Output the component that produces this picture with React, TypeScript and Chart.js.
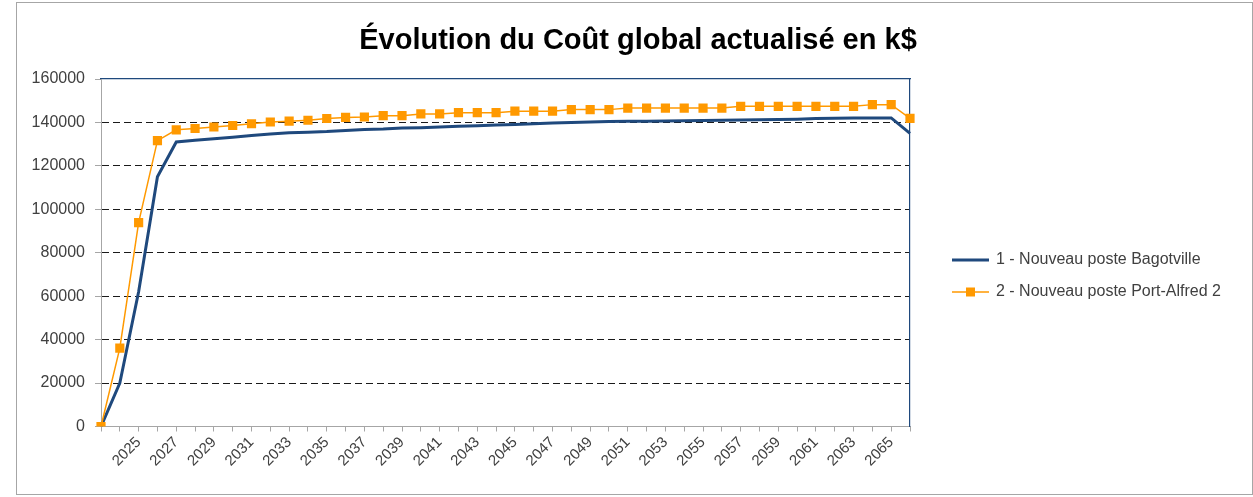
import React, { useEffect, useRef } from 'react';
import { Chart, registerables } from 'chart.js';

Chart.register(...registerables);

const TITLE = 'Évolution du Coût global actualisé en k$';

const years = [
  '2023', '2024', '2025', '2026', '2027', '2028', '2029', '2030', '2031', '2032', '2033',
  '2034', '2035', '2036', '2037', '2038', '2039', '2040', '2041', '2042', '2043', '2044',
  '2045', '2046', '2047', '2048', '2049', '2050', '2051', '2052', '2053', '2054', '2055',
  '2056', '2057', '2058', '2059', '2060', '2061', '2062', '2063', '2064', '2065', '2066',
];

const seriesNames = ['1 - Nouveau poste Bagotville', '2 - Nouveau poste Port-Alfred 2'];

const bagotville = [
  0, 20000, 62000, 115000, 131000, 131800, 132500, 133200, 134000, 134700,
  135300, 135500, 135800, 136300, 136800, 137000, 137400, 137600, 137900, 138200,
  138500, 138800, 139100, 139400, 139700, 140000, 140200, 140400, 140500, 140600,
  140700, 140800, 140900, 141000, 141100, 141200, 141300, 141500, 141800, 141900,
  142000, 142100, 142100, 135000,
];

const portAlfred = [
  0, 36100, 93900, 131600, 136600, 137200, 137900, 138600, 139400, 140200,
  140600, 141000, 141800, 142300, 142500, 143100, 143100, 143900, 143900, 144500,
  144500, 144500, 145200, 145200, 145200, 145900, 145900, 145900, 146600, 146600,
  146600, 146600, 146600, 146600, 147400, 147400, 147400, 147400, 147400, 147400,
  147400, 148200, 148200, 141900,
];

const yMin = 0;
const yMax = 160000;
const yStep = 20000;

const BLUE = '#1F497D';
const ORANGE = '#FF9900';
const FONT = "'Liberation Sans', Arial, sans-serif";

const W = 1253;
const H = 497;
const CH = 552;
const PAD_LEFT = 23;
const PLOT_LEFT = 101;
const PLOT_BOTTOM = 426.5;

function legendSample(color: string, width: number, marker: boolean) {
  const c = document.createElement('canvas');
  c.width = 37;
  c.height = 12;
  const g = c.getContext('2d')!;
  g.strokeStyle = color;
  g.lineWidth = width;
  g.beginPath();
  g.moveTo(0, 6);
  g.lineTo(37, 6);
  g.stroke();
  if (marker) {
    g.fillStyle = color;
    g.fillRect(14, 1.5, 9, 9);
  }
  return c;
}

export default function App() {
  const ref = useRef<HTMLCanvasElement>(null);

  useEffect(() => {
    if (!ref.current) return;
    const samples = [legendSample(BLUE, 3, false), legendSample(ORANGE, 1.5, true)];
    const pad = '\u00A0'.repeat(12);
    const chart = new Chart(ref.current, {
      type: 'line',
      data: {
        labels: years,
        datasets: [
          {
            label: seriesNames[0],
            data: bagotville,
            borderColor: BLUE,
            backgroundColor: BLUE,
            borderWidth: 3,
            pointRadius: 0,
            tension: 0,
            order: 1,
          },
          {
            label: seriesNames[1],
            data: portAlfred,
            borderColor: ORANGE,
            backgroundColor: ORANGE,
            borderWidth: 1.5,
            pointStyle: 'rect',
            pointRadius: 6.5,
            pointBorderWidth: 0,
            tension: 0,
            order: 0,
          },
        ],
      },
      options: {
        responsive: false,
        animation: false,
        devicePixelRatio: 1,
        layout: { padding: { left: PAD_LEFT, right: 0, top: 0, bottom: 0 } },
        plugins: {
          tooltip: { enabled: false },
          title: {
            display: true,
            text: TITLE,
            color: '#000',
            font: { family: FONT, size: 29, weight: 'bold', lineHeight: 1.2 },
            padding: { top: 23.6, bottom: 20.6 },
          },
          legend: {
            display: true,
            position: 'right',
            align: 'center',
            maxWidth: 316,
            labels: {
              color: '#404040',
              font: { family: FONT, size: 16 },
              padding: 16,
              usePointStyle: true,
              pointStyleWidth: 35,
              generateLabels: (ch: any) => {
                const items = (Chart.defaults.plugins.legend.labels as any).generateLabels(ch);
                items.sort((a: any, b: any) => a.datasetIndex - b.datasetIndex);
                items.forEach((it: any) => {
                  it.pointStyle = samples[it.datasetIndex];
                  it.text = seriesNames[it.datasetIndex] + pad;
                });
                return items;
              },
            },
          },
        },
        scales: {
          x: {
            type: 'category',
            position: 'bottom',
            offset: false,
            afterFit: (s: any) => { s.height = CH - PLOT_BOTTOM; },
            grid: {
              drawOnChartArea: false,
              drawTicks: true,
              tickLength: 5,
              tickColor: '#A6A6A6',
              color: '#A6A6A6',
            },
            border: { display: true, color: '#A6A6A6', width: 1 },
            ticks: {
              autoSkip: false,
              maxRotation: 45,
              minRotation: 45,
              padding: 2,
              color: '#404040',
              font: { family: FONT, size: 15 },
              callback: (_v: any, i: number) => (i > 0 && i % 2 === 0 ? years[i] : ''),
            },
          },
          x2: {
            type: 'category',
            position: 'top',
            afterFit: (s: any) => { s.height = 0; },
            grid: { display: false },
            ticks: { display: false },
            border: { display: true, color: BLUE, width: 1.2 },
          },
          y: {
            type: 'linear',
            position: 'left',
            min: yMin,
            max: yMax,
            afterFit: (s: any) => { s.width = PLOT_LEFT - PAD_LEFT; },
            grid: {
              drawTicks: true,
              tickLength: 6,
              tickColor: '#A6A6A6',
              color: (c: any) =>
                c.tick && (c.tick.value === yMin || c.tick.value === yMax) ? 'rgba(0,0,0,0)' : '#1a1a1a',
              lineWidth: 1,
            },
            border: { display: true, color: '#A6A6A6', width: 1, dash: [7, 4] },
            ticks: {
              stepSize: yStep,
              padding: 10,
              color: '#404040',
              font: { family: FONT, size: 16 },
              callback: (v: any) => String(v),
            },
          },
          y2: {
            type: 'linear',
            position: 'right',
            min: yMin,
            max: yMax,
            afterFit: (s: any) => { s.width = 27; },
            grid: { display: false },
            ticks: { display: false },
            border: { display: true, color: BLUE, width: 1.2 },
          },
        },
      },
    });
    return () => chart.destroy();
  }, []);

  return (
    <div
      style={{
        position: 'fixed',
        left: 0,
        top: 0,
        width: W,
        height: H,
        overflow: 'hidden',
        background: '#fff',
      }}
    >
      <div
        style={{
          position: 'absolute',
          left: 16,
          top: 2,
          width: 1237,
          height: 493,
          boxSizing: 'border-box',
          border: '1px solid #A6A6A6',
        }}
      />
      <canvas ref={ref} width={W} height={CH} style={{ position: 'absolute', left: 0, top: 0 }} />
    </div>
  );
}
